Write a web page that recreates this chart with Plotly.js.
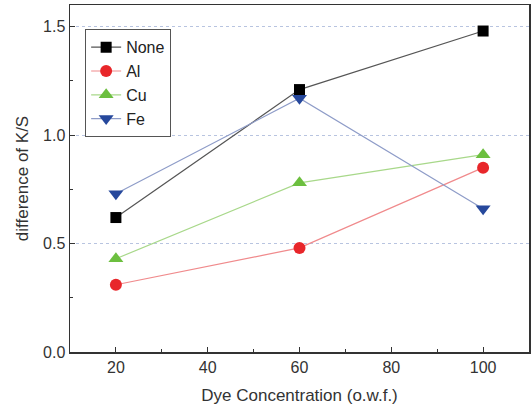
<!DOCTYPE html>
<html><head><meta charset="utf-8">
<script src="https://cdn.plot.ly/plotly-3.0.1.min.js"></script>
<style>html,body{margin:0;padding:0;background:#fff}#chart{width:531px;height:413px}</style>
</head><body><div id="chart"></div>
<script>
const concentrations = [20, 60, 100];
const seriesNames = ["None", "Al", "Cu", "Fe"];
const noneValues = [0.62, 1.21, 1.48];
const alValues = [0.31, 0.48, 0.85];
const cuValues = [0.43, 0.78, 0.91];
const feValues = [0.73, 1.17, 0.66];

const styles = [
  {marker: "#000000", line: "#555555", symbol: "square", size: 11},
  {marker: "#e8262a", line: "#f08a8c", symbol: "circle", size: 12},
  {marker: "#6cbf3f", line: "#a8d88a", symbol: "triangle-up", size: 13},
  {marker: "#26489c", line: "#8e9cc8", symbol: "triangle-down", size: 13}
];
const allValues = [noneValues, alValues, cuValues, feValues];

const traces = seriesNames.map((name, i) => ({
  x: concentrations, y: allValues[i], name: name, type: "scatter", mode: "lines+markers",
  line: {color: styles[i].line, width: 1.2},
  marker: {color: styles[i].marker, symbol: styles[i].symbol, size: styles[i].size}
}));

const fam = "Liberation Sans, Arial, sans-serif";
const axisFont = {family: fam, size: 16, color: "#333"};
const layout = {
  width: 531, height: 413,
  margin: {l: 70, r: 2, t: 5, b: 61},
  paper_bgcolor: "#fff", plot_bgcolor: "#fff",
  showlegend: true,
  legend: {x: 0.033, y: 0.93, xanchor: "left", yanchor: "top",
    bordercolor: "#555", borderwidth: 1, bgcolor: "#fff",
    font: {family: fam, size: 16, color: "#222"},
    tracegroupgap: 0, itemwidth: 30},
  xaxis: {
    range: [10, 110], tickvals: [20, 40, 60, 80, 100], ticks: "inside", ticklen: 5, tickcolor: "#333",
    showline: true, linecolor: "#333", linewidth: 1.5, mirror: true, showgrid: false, zeroline: false,
    tickfont: axisFont,
    minor: {tickvals: [30, 50, 70, 90], ticks: "inside", ticklen: 3, tickcolor: "#333", showgrid: false},
    title: {text: "Dye Concentration (o.w.f.)", font: {family: fam, size: 17, color: "#333"}, standoff: 14}
  },
  yaxis: {
    range: [0, 1.6], tickvals: [0, 0.5, 1.0, 1.5], ticktext: ["0.0", "0.5", "1.0", "1.5"],
    ticks: "inside", ticklen: 5, tickcolor: "#333",
    showline: true, linecolor: "#333", linewidth: 1.5, mirror: true,
    showgrid: true, gridcolor: "#b8c4e0", griddash: "dot", gridwidth: 1, zeroline: false,
    tickfont: axisFont,
    minor: {tickvals: [0.25, 0.75, 1.25], ticks: "inside", ticklen: 3, tickcolor: "#333", showgrid: false},
    title: {text: "difference of K/S", font: {family: fam, size: 17, color: "#333"}, standoff: 10}
  }
};
Plotly.newPlot("chart", traces, layout, {staticPlot: true, displayModeBar: false});
</script></body></html>
